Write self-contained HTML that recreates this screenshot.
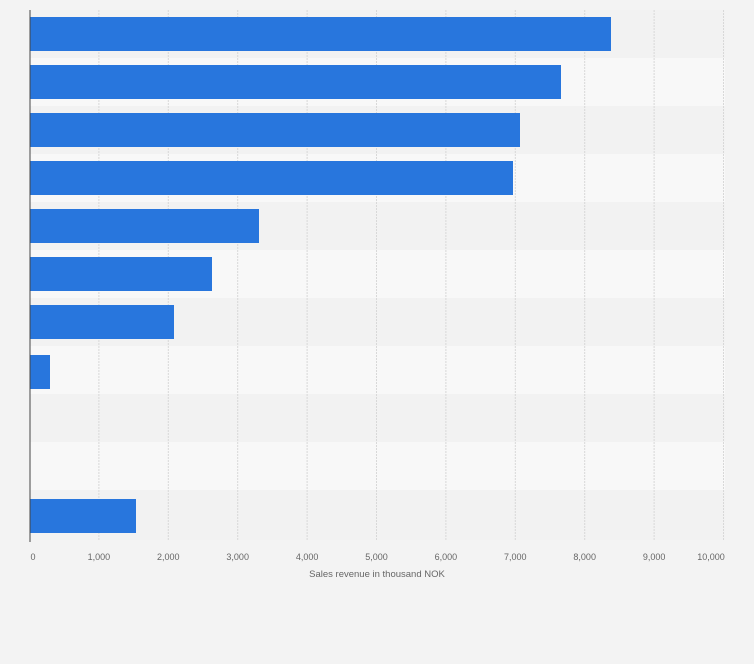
<!DOCTYPE html>
<html><head><style>
body{margin:0;width:754px;height:659px;background:#f3f3f3;overflow:hidden}
text{font-family:"Liberation Sans",sans-serif;fill:#666}
</style></head><body>
<svg width="754" height="659" xmlns="http://www.w3.org/2000/svg">
<rect width="754" height="659" fill="#f3f3f3"/>
<rect x="30" y="10" width="695" height="48" fill="#f2f2f2"/>
<rect x="30" y="58" width="695" height="48" fill="#f8f8f8"/>
<rect x="30" y="106" width="695" height="48" fill="#f2f2f2"/>
<rect x="30" y="154" width="695" height="48" fill="#f8f8f8"/>
<rect x="30" y="202" width="695" height="48" fill="#f2f2f2"/>
<rect x="30" y="250" width="695" height="48" fill="#f8f8f8"/>
<rect x="30" y="298" width="695" height="48" fill="#f2f2f2"/>
<rect x="30" y="346" width="695" height="48" fill="#f8f8f8"/>
<rect x="30" y="394" width="695" height="48" fill="#f2f2f2"/>
<rect x="30" y="442" width="695" height="48" fill="#f8f8f8"/>
<rect x="30" y="490" width="695" height="50" fill="#f2f2f2"/>
<g stroke="#d8d8d8" stroke-dasharray="2,1">
<line x1="98.9" y1="10" x2="98.9" y2="541"/>
<line x1="168.3" y1="10" x2="168.3" y2="541"/>
<line x1="237.7" y1="10" x2="237.7" y2="541"/>
<line x1="307.1" y1="10" x2="307.1" y2="541"/>
<line x1="376.5" y1="10" x2="376.5" y2="541"/>
<line x1="445.9" y1="10" x2="445.9" y2="541"/>
<line x1="515.3" y1="10" x2="515.3" y2="541"/>
<line x1="584.7" y1="10" x2="584.7" y2="541"/>
<line x1="654.1" y1="10" x2="654.1" y2="541"/>
<line x1="723.5" y1="10" x2="723.5" y2="541"/>
</g>
<g fill="#2876dd">
<rect x="30" y="17" width="581" height="34"/>
<rect x="30" y="65" width="531" height="34"/>
<rect x="30" y="113" width="490" height="34"/>
<rect x="30" y="161" width="483" height="34"/>
<rect x="30" y="209" width="229" height="34"/>
<rect x="30" y="257" width="182" height="34"/>
<rect x="30" y="305" width="144" height="34"/>
<rect x="30" y="355" width="20" height="34"/>
<rect x="30" y="499" width="106" height="34"/>
</g>
<line x1="30" y1="10" x2="30" y2="542" stroke="#444"/>
<g font-size="9" text-anchor="middle">
<text x="33" y="560">0</text>
<text x="98.9" y="560">1,000</text>
<text x="168.3" y="560">2,000</text>
<text x="237.7" y="560">3,000</text>
<text x="307.1" y="560">4,000</text>
<text x="376.5" y="560">5,000</text>
<text x="445.9" y="560">6,000</text>
<text x="515.3" y="560">7,000</text>
<text x="584.7" y="560">8,000</text>
<text x="654.1" y="560">9,000</text>
<text x="711" y="560">10,000</text>
</g>
<text x="377" y="577" font-size="9.5" text-anchor="middle">Sales revenue in thousand NOK</text>
</svg>
</body></html>
